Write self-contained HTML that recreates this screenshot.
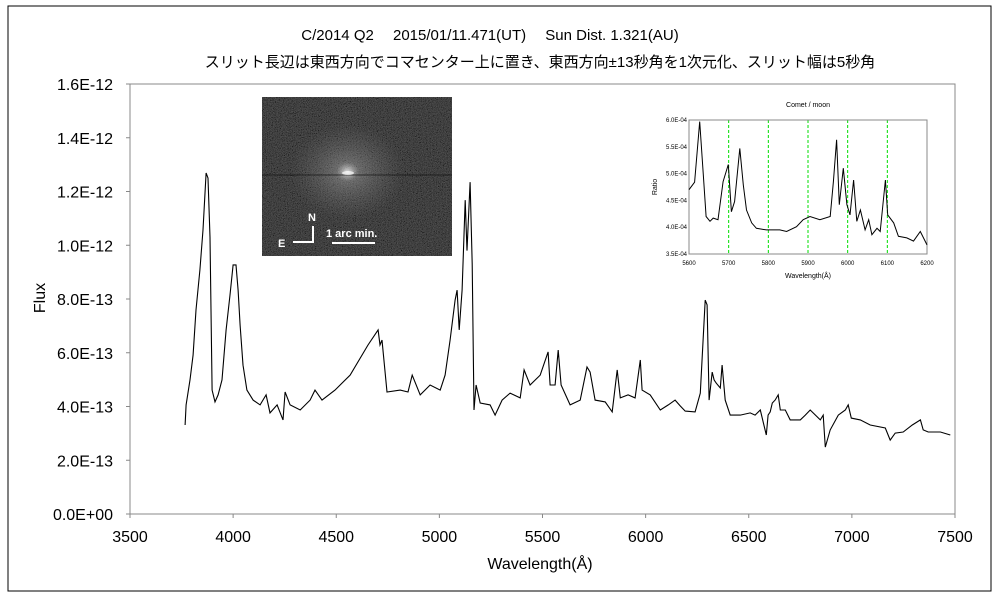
<!DOCTYPE html>
<html><head><meta charset="utf-8"><style>
body{margin:0;background:#fff;font-family:"Liberation Sans","Noto Sans CJK JP",sans-serif}
svg text{font-family:"Liberation Sans","Noto Sans CJK JP",sans-serif}
</style></head><body>
<svg id="c" width="1000" height="600" xmlns="http://www.w3.org/2000/svg">
<defs>
<filter id="noise" x="0" y="0" width="100%" height="100%">
<feTurbulence type="fractalNoise" baseFrequency="1.2" numOctaves="1" seed="3"/>
<feColorMatrix type="matrix" values="0.33 0.33 0.33 0 0 0.33 0.33 0.33 0 0 0.33 0.33 0.33 0 0 0 0 0 0 1"/>
<feComponentTransfer><feFuncR type="linear" slope="3" intercept="-1"/><feFuncG type="linear" slope="3" intercept="-1"/><feFuncB type="linear" slope="3" intercept="-1"/></feComponentTransfer>
</filter>
<radialGradient id="glow" cx="0.45" cy="0.47" r="0.3">
<stop offset="0" stop-color="#fff" stop-opacity="0.8"/>
<stop offset="0.2" stop-color="#bbb" stop-opacity="0.35"/>
<stop offset="1" stop-color="#888" stop-opacity="0"/>
</radialGradient>
</defs>
<rect x="8" y="6" width="983" height="585" fill="#fff" stroke="#000" stroke-width="1"/>
<text x="490" y="40" font-size="15" text-anchor="middle">C/2014 Q2　 2015/01/11.471(UT)　 Sun Dist. 1.321(AU)</text>
<text x="540" y="67" font-size="15" text-anchor="middle">スリット長辺は東西方向でコマセンター上に置き、東西方向±13秒角を1次元化、スリット幅は5秒角</text>
<g id="axes"></g>
<g id="series"></g>
<g>
<rect x="262" y="97" width="190" height="159" fill="#000"/>
<rect x="262" y="97" width="190" height="159" filter="url(#noise)" opacity="0.35"/>
<rect x="262" y="97" width="190" height="159" fill="url(#glow)"/>
<rect x="262" y="174" width="190" height="2" fill="#111" opacity="0.35"/>
<ellipse cx="348" cy="173" rx="6" ry="2" fill="#fff" opacity="0.7"/>
<path d="M293 242 H313 V226" stroke="#fff" stroke-width="2" fill="none"/>
<text x="308" y="221" fill="#fff" font-size="11" font-weight="bold">N</text>
<text x="278" y="247" fill="#fff" font-size="11" font-weight="bold">E</text>
<text x="326" y="237" fill="#fff" font-size="11" font-weight="bold">1 arc min.</text>
<line x1="332" y1="243" x2="375" y2="243" stroke="#fff" stroke-width="2"/>
</g>
<g id="inset"></g>
</svg>
<script>
// Main spectrum data: wavelength (Å) and flux (×1e-13)
const waves=[3767,3772,3791,3806,3820,3839,3854,3869,3878,3888,3898,3912,3927,3946,3966,3985,4000,4014,4024,4034,4048,4067,4097,4131,4160,4179,4213,4242,4252,4276,4325,4373,4397,4431,4494,4567,4654,4703,4712,4722,4746,4810,4848,4868,4907,4955,5004,5028,5052,5076,5086,5096,5110,5125,5134,5149,5159,5168,5178,5198,5246,5270,5304,5343,5392,5411,5440,5489,5527,5537,5561,5576,5590,5634,5683,5716,5731,5755,5804,5838,5862,5877,5915,5949,5974,5983,6022,6071,6110,6143,6168,6192,6240,6265,6289,6298,6308,6323,6332,6342,6362,6371,6386,6410,6459,6507,6531,6556,6585,6594,6604,6614,6628,6643,6653,6677,6701,6750,6774,6798,6847,6861,6871,6895,6934,6968,6982,6997,7041,7089,7162,7186,7210,7249,7293,7332,7346,7370,7429,7477,7501];
const flux=[3.31,4.06,4.99,5.92,7.59,9.08,10.57,12.69,12.5,10.3,4.61,4.17,4.43,4.99,6.85,8.15,9.27,9.27,8.33,7.03,5.54,4.61,4.24,4.06,4.43,3.76,4.06,3.5,4.54,4.06,3.87,4.24,4.61,4.24,4.61,5.17,6.29,6.85,6.29,6.47,4.54,4.61,4.54,5.17,4.43,4.8,4.61,5.17,6.47,7.96,8.33,6.85,8.33,11.68,9.8,12.35,9.3,3.87,4.8,4.13,4.06,3.68,4.24,4.5,4.32,5.36,4.8,5.17,6.03,4.8,4.8,6.1,4.8,4.06,4.24,5.47,5.28,4.24,4.17,3.8,5.36,4.32,4.43,4.32,5.73,4.61,4.43,3.87,4.06,4.24,4.02,3.83,3.8,4.5,7.96,7.78,4.24,5.28,4.99,4.87,4.69,5.54,4.24,3.68,3.68,3.76,3.68,3.87,2.94,3.68,3.8,4.13,4.24,4.43,3.87,3.87,3.5,3.5,3.68,3.87,3.5,3.68,2.49,3.13,3.68,3.87,4.06,3.57,3.5,3.31,3.2,2.75,3.01,3.05,3.31,3.5,3.13,3.05,3.05,2.94];
const yTicks=["0.0E+00","2.0E-13","4.0E-13","6.0E-13","8.0E-13","1.0E-12","1.2E-12","1.4E-12","1.6E-12"];
const xTicks=[3500,4000,4500,5000,5500,6000,6500,7000,7500];
// Inset data: wavelength and ratio (×1e-4)
const inWaves=[5600,5614,5627,5636,5643,5653,5661,5673,5686,5699,5707,5715,5728,5737,5745,5758,5770,5795,5829,5846,5871,5888,5905,5930,5956,5964,5972,5979,5989,5998,6006,6015,6023,6032,6044,6053,6061,6074,6082,6095,6101,6116,6128,6149,6166,6183,6200];
const inRatio=[4.70,4.84,5.97,4.98,4.2,4.11,4.17,4.14,4.85,5.17,4.29,4.48,5.47,4.79,4.32,4.08,3.98,3.95,3.95,3.92,4.01,4.14,4.2,4.14,4.2,4.85,5.63,4.42,5.1,4.42,4.23,4.88,4.11,4.32,3.95,4.14,3.86,3.98,3.92,4.88,4.23,4.08,3.83,3.8,3.74,3.92,3.67];
const inYTicks=["3.5E-04","4.0E-04","4.5E-04","5.0E-04","5.5E-04","6.0E-04"];
const inXTicks=[5600,5700,5800,5900,6000,6100,6200];
const inLines=[5700,5800,5900,6000,6100];

const NS="http://www.w3.org/2000/svg";
function mk(tag,attrs,parent,txt){const e=document.createElementNS(NS,tag);for(const k in attrs)e.setAttribute(k,attrs[k]);if(txt!==undefined)e.textContent=txt;parent.appendChild(e);return e;}
const L=130,R=955,T=84,B=514;
const xs=w=>L+(w-3500)/4000*(R-L);
const ys=f=>B-f/16*(B-T);
const ax=document.getElementById('axes');
let r=mk('rect',{x:L,y:T,width:R-L,height:B-T,fill:'none',stroke:'#888'},ax);


yTicks.forEach((t,i)=>{const y=ys(i*2);
 const tx=mk('text',{x:113,y:y+6,'font-size':16,'text-anchor':'end'},ax,t);
 
 
 mk('line',{x1:L-4,x2:L,y1:y,y2:y,stroke:'#888'},ax);});
xTicks.forEach(t=>{const x=xs(t);
 const tx=mk('text',{x:x,y:542,'font-size':16,'text-anchor':'middle'},ax,t);
 
 
 mk('line',{x1:x,x2:x,y1:B,y2:B+4,stroke:'#888'},ax);});
let yt=mk('text',{x:0,y:0,'font-size':16,'text-anchor':'middle',transform:'translate(45,298) rotate(-90)'},ax,'Flux');


let xt=mk('text',{x:540,y:569,'font-size':16,'text-anchor':'middle'},ax,'Wavelength(Å)');


const sp=mk('polyline',{points:waves.map((w,i)=>xs(w).toFixed(1)+','+ys(flux[i]).toFixed(1)).join(' '),fill:'none',stroke:'#000','stroke-width':1.1},document.getElementById('series'));



// inset
const g=document.getElementById('inset');


const iL=689,iR=927,iT=120,iB=254;
const ixs=w=>iL+(w-5600)/600*(iR-iL);
const iys=v=>iB-(v-3.5)/2.5*(iB-iT);
mk('text',{x:808,y:107,'font-size':7,'text-anchor':'middle'},g,'Comet / moon');
inLines.forEach(w=>{const l=mk('line',{x1:ixs(w),x2:ixs(w),y1:iT,y2:iB,stroke:'#00dd00','stroke-dasharray':'3,2','stroke-width':1},g);
 
 });
mk('rect',{x:iL,y:iT,width:iR-iL,height:iB-iT,fill:'none',stroke:'#888'},g);
inYTicks.forEach((t,i)=>{mk('text',{x:iL-2,y:iys(3.5+i*0.5)+2,'font-size':6,'text-anchor':'end'},g,t);});
inXTicks.forEach(t=>{mk('text',{x:ixs(t),y:iB+11,'font-size':6,'text-anchor':'middle'},g,t);});
mk('text',{x:0,y:0,'font-size':7,'text-anchor':'middle',transform:'translate(657,187) rotate(-90)'},g,'Ratio');
mk('text',{x:808,y:278,'font-size':7,'text-anchor':'middle'},g,'Wavelength(Å)');
const il=mk('polyline',{points:inWaves.map((w,i)=>ixs(w).toFixed(1)+','+iys(inRatio[i]).toFixed(1)).join(' '),fill:'none',stroke:'#000','stroke-width':1},g);


</script>
</body></html>
